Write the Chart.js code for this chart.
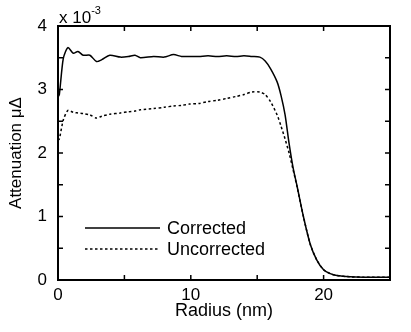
<!DOCTYPE html>
<html>
<head>
<meta charset="utf-8">
<script src="https://cdn.jsdelivr.net/npm/chart.js@4/dist/chart.umd.min.js"></script>
<style>
  html, body { margin: 0; padding: 0; background: #fff; }
</style>
</head>
<body>
<canvas id="chart" width="411" height="332"></canvas>
<script>
// radius in nm, attenuation in units of 1e-3
const radius = [0, 0.1, 0.4, 0.75, 1.15, 1.5, 1.9, 2.4, 2.9, 3.3,
  3.9, 4.7, 5.3, 5.8, 6.2, 7.2, 8, 8.7, 9.3, 9.9,
  10.6, 11.3, 12, 12.7, 13.4, 14, 14.6, 15.2, 15.6, 16,
  16.5, 16.8, 17.1, 17.4, 17.7, 18, 18.5, 19, 19.5, 20,
  20.5, 21, 22, 23, 25];

const corrected = [2.88, 2.92, 3.49, 3.66, 3.57, 3.6, 3.54, 3.54, 3.44, 3.47,
  3.54, 3.51, 3.52, 3.54, 3.5, 3.52, 3.51, 3.55, 3.52, 3.52,
  3.52, 3.53, 3.52, 3.53, 3.52, 3.53, 3.52, 3.51, 3.45, 3.33,
  3.12, 2.9, 2.6, 2.15, 1.77, 1.48, 0.98, 0.56, 0.31, 0.16,
  0.1, 0.07, 0.05, 0.045, 0.045];

const uncorrected = [2.2, 2.22, 2.52, 2.67, 2.64, 2.63, 2.62, 2.6, 2.55, 2.58,
  2.61, 2.63, 2.65, 2.66, 2.68, 2.7, 2.72, 2.74, 2.75, 2.77,
  2.78, 2.81, 2.83, 2.86, 2.89, 2.92, 2.96, 2.96, 2.92, 2.81,
  2.6, 2.42, 2.22, 2.0, 1.74, 1.47, 0.98, 0.56, 0.31, 0.16,
  0.1, 0.07, 0.05, 0.045, 0.045];

const xTickLabels = [0, 10, 20];
const yTickLabels = [0, 1, 2, 3, 4];

const FONT = "'Liberation Sans', Arial, sans-serif";

const toPoints = (ys) => radius.map((x, i) => ({ x, y: ys[i] }));

// box around the plot with inward ticks, exponent note and legend
const frame = {
  id: "frame",
  afterDatasetsDraw(chart) {
    const { ctx, chartArea: a, scales } = chart;
    ctx.save();
    ctx.strokeStyle = "#000";
    ctx.lineWidth = 1.5;
    const t = 5;
    scales.x.ticks.forEach((tk) => {
      const px = scales.x.getPixelForValue(tk.value);
      ctx.beginPath();
      ctx.moveTo(px, a.bottom); ctx.lineTo(px, a.bottom - t);
      ctx.moveTo(px, a.top); ctx.lineTo(px, a.top + t);
      ctx.stroke();
    });
    scales.y.ticks.forEach((tk) => {
      const py = scales.y.getPixelForValue(tk.value);
      ctx.beginPath();
      ctx.moveTo(a.left, py); ctx.lineTo(a.left + t, py);
      ctx.moveTo(a.right, py); ctx.lineTo(a.right - t, py);
      ctx.stroke();
    });
    ctx.lineWidth = 2;
    ctx.strokeRect(a.left, a.top, a.right - a.left, a.bottom - a.top);

    // exponent
    ctx.fillStyle = "#000";
    ctx.textBaseline = "alphabetic";
    ctx.textAlign = "left";
    ctx.font = "17px " + FONT;
    ctx.fillText("x 10", a.left + 1, a.top - 3);
    const w = ctx.measureText("x 10").width;
    ctx.font = "11px " + FONT;
    ctx.fillText("-3", a.left + 1 + w, a.top - 12);

    // legend
    ctx.font = "18px " + FONT;
    ctx.textBaseline = "middle";
    chart.data.datasets.forEach((ds, i) => {
      const y = 228 + i * 21;
      ctx.beginPath();
      ctx.lineWidth = ds.borderWidth;
      ctx.setLineDash(ds.borderDash || []);
      ctx.moveTo(85, y); ctx.lineTo(160, y);
      ctx.stroke();
      ctx.setLineDash([]);
      ctx.fillText(ds.label, 167, y + 1);
    });
    ctx.restore();
  },
};

new Chart(document.getElementById("chart"), {
  type: "line",
  data: {
    datasets: [
      {
        label: "Corrected",
        data: toPoints(corrected),
        borderColor: "#000",
        borderWidth: 1.5,
        pointRadius: 0,
        tension: 0.25,
        fill: false,
      },
      {
        label: "Uncorrected",
        data: toPoints(uncorrected),
        borderColor: "#000",
        borderWidth: 1.5,
        borderDash: [2.5, 2.5],
        pointRadius: 0,
        tension: 0.25,
        fill: false,
      },
    ],
  },
  options: {
    responsive: false,
    animation: false,
    layout: { padding: { top: 26, right: 21, left: 0, bottom: 0 } },
    plugins: { legend: { display: false }, tooltip: { enabled: false } },
    scales: {
      x: {
        type: "linear",
        min: 0,
        max: 25,
        afterFit: (s) => { s.height = 52; },
        grid: { display: false, drawTicks: false },
        border: { display: false },
        ticks: {
          stepSize: 5,
          padding: 5,
          maxRotation: 0,
          color: "#000",
          font: { family: FONT, size: 17 },
          callback: (v) => (xTickLabels.includes(v) ? String(v) : ""),
        },
        title: {
          display: true,
          text: "Radius (nm)",
          color: "#000",
          font: { family: FONT, size: 18 },
          padding: { top: 0, bottom: 10 },
        },
      },
      y: {
        min: 0,
        max: 4,
        afterFit: (s) => { s.width = 58; },
        grid: { display: false, drawTicks: false },
        border: { display: false },
        ticks: {
          stepSize: 0.5,
          padding: 11,
          color: "#000",
          font: { family: FONT, size: 17 },
          callback: (v) => (yTickLabels.includes(v) ? String(v) : ""),
        },
        title: {
          display: true,
          text: "Attenuation μΔ",
          color: "#000",
          font: { family: FONT, size: 17 },
          padding: { top: 6, bottom: 0 },
        },
      },
    },
  },
  plugins: [frame],
});
</script>
</body>
</html>
